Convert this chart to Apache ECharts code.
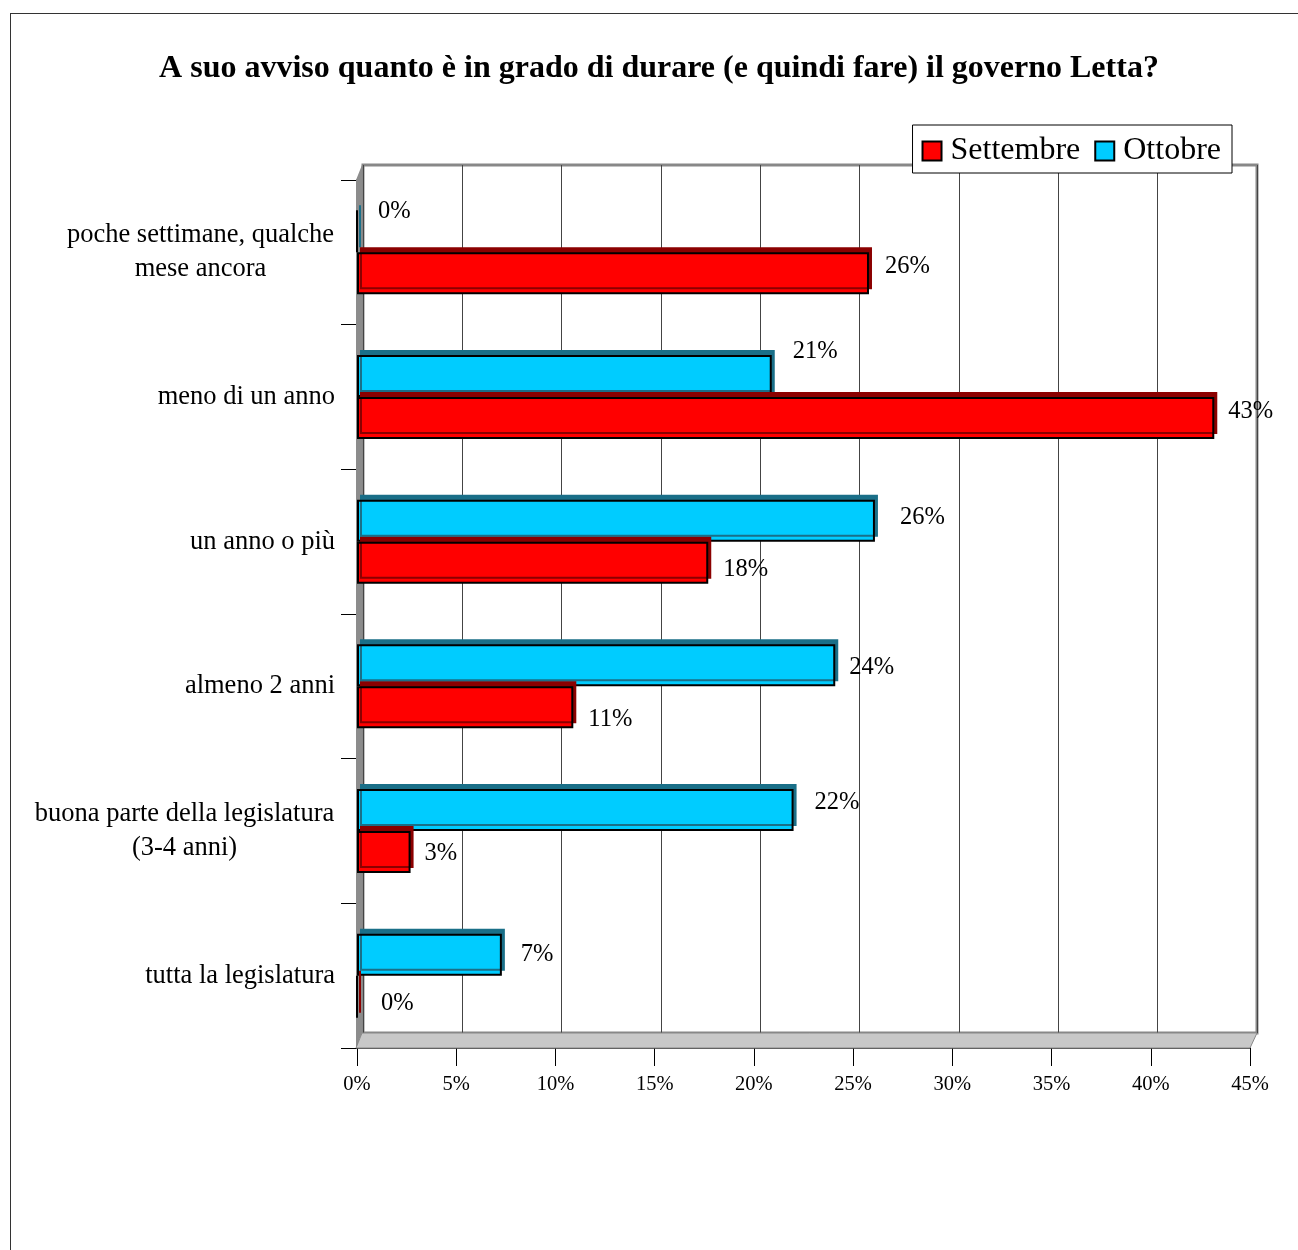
<!DOCTYPE html>
<html><head><meta charset="utf-8">
<script src="https://cdn.jsdelivr.net/npm/echarts@6/dist/echarts.min.js"></script>
<style>
html,body{margin:0;padding:0;background:#fff;}
#frame{position:absolute;left:10px;top:13px;width:1400px;height:1400px;border:1.5px solid #333;box-sizing:border-box;}
#c{position:absolute;left:0;top:0;width:1298px;height:1250px;}
</style></head>
<body>
<div id="frame"></div>
<div id="c"></div>
<script>
const categories = ["poche settimane, qualche\nmese ancora","meno di un anno","un anno o più","almeno 2 anni","buona parte della legislatura\n(3-4 anni)","tutta la legislatura"];
const settembre = [25.8, 43.2, 17.7, 10.9, 2.7, 0];
const ottobre = [0, 20.9, 26.1, 24.1, 22.0, 7.3];
const xTicks = [0,5,10,15,20,25,30,35,40,45];

// label placement tweaks (layout only)
const ottobreLabelOffset = [[15,-20],[16,-24],[20,-3],[9,2],[16,-7],[14,0]];
const settembreLabelOffset = [[11,-7],[9,-6],[10,7],[10,12],[9,2],[18,7]];

const serif = '"Liberation Serif","Times New Roman",serif';
const catFont = 26.5;
const ctx = document.createElement('canvas').getContext('2d');
ctx.font = catFont + 'px "Liberation Serif"';
const rich = {};
categories.forEach((c,i)=>{
  const lines = c.split('\n');
  if (lines.length>1){
    const w = Math.max(...lines.map(l=>ctx.measureText(l).width));
    rich['c'+i] = {width:Math.ceil(w)+1, align:'center', fontFamily:serif, fontSize:catFont, lineHeight:34, color:'#000'};
  }
});

const chart = echarts.init(document.getElementById('c'), null, {renderer:'canvas'});
const mk = (vals, offs)=>vals.map((v,i)=>({value:v,label:{offset:offs[i]}}));
const lbl = {show:true,position:'right',fontFamily:serif,fontSize:24.5,color:'#000',
  formatter:p=>Math.round(p.value)+'%'};
chart.setOption({
  animation:false,
  title:{text:'A suo avviso quanto è in grado di durare (e quindi fare) il governo Letta?',left:654,textAlign:'center',top:48,
    textStyle:{fontFamily:serif,fontSize:32,fontWeight:'bold',color:'#000'}},
  legend:{data:['Settembre','Ottobre'],right:66,top:125,icon:'rect',itemWidth:19,itemHeight:19,itemGap:14,padding:[10,11,6,9],
    backgroundColor:'#fff',borderColor:'#000',borderWidth:1,
    textStyle:{fontFamily:serif,fontSize:32,color:'#000',padding:[0,0,0,4]},
    itemStyle:{borderColor:'#000',borderWidth:2}},
  grid:[
    {left:357,right:48,top:180,bottom:202},
    {left:363,right:41,top:165,bottom:217,show:true,borderColor:'#888',borderWidth:3,backgroundColor:'transparent'}
  ],
  xAxis:[
    {gridIndex:0,type:'value',min:0,max:45,interval:5,
     axisLine:{show:true,lineStyle:{color:'#000',width:1.5}},
     axisTick:{show:true,length:18,lineStyle:{color:'#000'}},
     splitLine:{show:false},
     axisLabel:{fontFamily:serif,fontSize:20.5,color:'#000',margin:26,formatter:v=>v+'%'}},
    {gridIndex:1,type:'value',min:0,max:45,interval:5,axisLine:{show:false},axisTick:{show:false},axisLabel:{show:false},
     splitLine:{show:true,lineStyle:{color:'#444',width:1}}}
  ],
  yAxis:[
    {gridIndex:0,type:'category',data:categories,inverse:true,
     axisLine:{show:true,lineStyle:{color:'#000',width:1.5}},
     axisTick:{show:true,length:16,lineStyle:{color:'#000'}},
     axisLabel:{fontFamily:serif,fontSize:catFont,color:'#000',margin:22,lineHeight:34,align:'right',rich:rich,
       formatter:(v,i)=>{const ls=v.split('\n'); return ls.length>1 ? ls.map(l=>'{c'+i+'|'+l+'}').join('\n') : v;}}},
    {gridIndex:1,type:'category',data:categories,inverse:true,show:false}
  ],
  graphic:[
    {type:'polygon',shape:{points:[[356,180],[362,165],[362,1033],[356,1048]]},style:{fill:'#8c8c8c'},z:1},
    {type:'polygon',shape:{points:[[356,1048],[362,1033],[1257,1033],[1250,1048]]},style:{fill:'#c8c8c8',stroke:'#888',lineWidth:1},z:1}
  ],
  series:[
    {name:'Ottobre',type:'bar',xAxisIndex:0,yAxisIndex:0,data:mk(ottobre,ottobreLabelOffset),barWidth:42,barGap:'0%',
     itemStyle:{color:'#00ccff',borderColor:'#000',borderWidth:2,shadowColor:'#1a6f88',shadowOffsetX:3,shadowOffsetY:-5,shadowBlur:0},
     label:lbl,z:3},
    {name:'Settembre',type:'bar',xAxisIndex:0,yAxisIndex:0,data:mk(settembre,settembreLabelOffset),barWidth:42,barGap:'0%',
     itemStyle:{color:'#ff0000',borderColor:'#000',borderWidth:2,shadowColor:'#8b0000',shadowOffsetX:3,shadowOffsetY:-5,shadowBlur:0},
     label:lbl,z:3}
  ]
});
</script>
</body></html>
